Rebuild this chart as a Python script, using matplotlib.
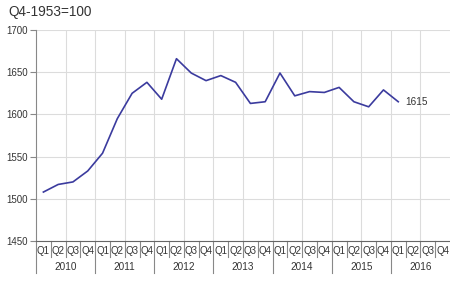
import matplotlib
matplotlib.use("Agg")
import matplotlib.pyplot as plt
from matplotlib.transforms import blended_transform_factory

years = ["2010", "2011", "2012", "2013", "2014", "2015", "2016"]
quarters = ["Q1", "Q2", "Q3", "Q4"]
values = [1508, 1517, 1520, 1533, 1554, 1595, 1625, 1638,
          1618, 1666, 1649, 1640, 1646, 1638, 1613, 1615,
          1649, 1622, 1627, 1626, 1632, 1615, 1609, 1629, 1615]
last_label = "1615"
title = "Q4-1953=100"
yticks = [1450, 1500, 1550, 1600, 1650, 1700]

plt.rcParams['font.family'] = ['Liberation Sans', 'DejaVu Sans']
txt = '#333333'
grid_c = '#dcdcdc'
axis_c = '#888888'

fig = plt.figure(figsize=(4.5, 2.91), dpi=100)
ax = fig.add_axes([36/450, 1 - 241/291, 1 - 36/450, (241 - 30)/291])

n = len(years) * len(quarters)
xs = list(range(len(values)))
ax.plot(xs, values, color='#3b3b9e', lw=1.2, zorder=3)
ax.annotate(last_label, (xs[-1], values[-1]), xytext=(5, 0), textcoords='offset points',
            ha='left', va='center', fontsize=7.2, color=txt)

ax.set_xlim(-0.5, n - 0.5)
ax.set_ylim(yticks[0], yticks[-1])
ax.set_yticks(yticks)
ax.set_yticklabels([str(v) for v in yticks], fontsize=7.0, color=txt)
ax.tick_params(axis='y', length=4, width=0.8, color=axis_c, pad=2)
ax.set_xticks([])
ax.set_xticks([i + 1.5 for i in range(0, n - 2, 2)], minor=True)
ax.tick_params(axis='x', which='minor', length=0)
ax.grid(True, which='minor', axis='x', color=grid_c, lw=0.8)
ax.grid(True, which='major', axis='y', color=grid_c, lw=0.8)
ax.set_axisbelow(True)

for s in ['top', 'right']:
    ax.spines[s].set_visible(False)
ax.spines['left'].set_color(axis_c)
ax.spines['left'].set_linewidth(0.8)
ax.spines['bottom'].set_color('#666666')
ax.spines['bottom'].set_linewidth(0.8)

tr = blended_transform_factory(ax.transData, ax.transAxes)
h = (241 - 30)
def ay(py):
    return -(py - 241) / h

for k in range(n):
    ax.text(k, ay(251.5), quarters[k % 4], transform=tr, ha='center', va='center',
            fontsize=7.0, color=txt)
    if k % 4 != 0:
        ax.plot([k - 0.5, k - 0.5], [0, ay(257)], transform=tr, color=axis_c,
                lw=0.8, clip_on=False)
for j, y in enumerate(years):
    ax.text(j * 4 + 1.5, ay(267.5), y, transform=tr, ha='center', va='center',
            fontsize=7.2, color=txt)
    ax.plot([j * 4 - 0.5, j * 4 - 0.5], [0, ay(273)], transform=tr, color=axis_c,
            lw=0.8, clip_on=False)

fig.text(8/450, 1 - 12/291, title, ha='left', va='center', fontsize=9.8, color=txt)

fig.savefig('out.png', dpi=100)
